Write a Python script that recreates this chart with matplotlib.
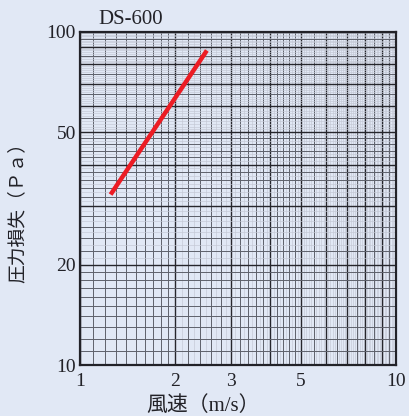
import numpy as np
import matplotlib
matplotlib.use("Agg")
import matplotlib.pyplot as plt
import matplotlib.ticker as mticker

# data
speed = [1.25, 2.52]          # m/s
pressure = [32.5, 88.0]       # Pa
x_ticks = [1, 2, 3, 5, 10]
y_ticks = [10, 20, 50, 100]
title = "DS-600"
x_label = "風速（m/s）"
y_label = "圧力損失（Ｐａ）"

BG = "#e1e8f5"
INK = "#222228"
SERIF = ["Liberation Serif", "Noto Sans CJK JP", "DejaVu Sans"]

plt.rcParams.update({
    "font.family": SERIF,
    "font.size": 14,
})

fig = plt.figure(figsize=(4.09, 4.16), dpi=100, facecolor=BG)
ax = fig.add_axes([80 / 409, 51 / 416, 316 / 409, 333 / 416], facecolor=BG)
ax.set_xscale("log")
ax.set_yscale("log")
ax.set_xlim(1, 10)
ax.set_ylim(10, 100)


def grid_values(scale):
    # log paper: fine, medium and heavy rulings for one decade
    fine = np.concatenate([np.arange(2, 5, 0.1), np.arange(5, 10, 0.1)])
    mid = np.concatenate([np.arange(1, 2, 0.1), np.arange(2, 5, 0.2), np.arange(5, 10, 0.5)])
    heavy = np.arange(1, 11, 1.0)
    return fine * scale, mid * scale, heavy * scale


fx, mx, hx = grid_values(1)
fy, my, hy = grid_values(10)

for v in fx:
    ax.axvline(v, color="#c3c8d4", lw=0.45, zorder=1)
for v in mx:
    ax.axvline(v, color="#5e616b", lw=0.7, zorder=1)
for v in hx:
    ax.axvline(v, color="#26262c", lw=1.0, zorder=1)
for v in fy:
    ax.axhline(v, color="#c3c8d4", lw=0.45, zorder=1)
for v in my:
    ax.axhline(v, color="#5e616b", lw=0.7, zorder=1)
for v in hy:
    ax.axhline(v, color="#26262c", lw=1.0, zorder=1)

ax.plot(speed, pressure, color="#ec1c24", lw=3.2, solid_capstyle="butt", zorder=3)

ax.xaxis.set_major_locator(mticker.FixedLocator(x_ticks))
ax.yaxis.set_major_locator(mticker.FixedLocator(y_ticks))
ax.xaxis.set_minor_locator(mticker.NullLocator())
ax.yaxis.set_minor_locator(mticker.NullLocator())
ax.xaxis.set_major_formatter(mticker.FixedFormatter([str(t) for t in x_ticks]))
ax.yaxis.set_major_formatter(mticker.FixedFormatter([str(t) for t in y_ticks]))
ax.tick_params(length=0, labelsize=14, colors=INK)
ax.tick_params(axis="x", pad=6)
ax.tick_params(axis="y", pad=3)

for s in ax.spines.values():
    s.set_color(INK)
    s.set_linewidth(1.6)
    s.set_zorder(4)

fig.text(98 / 409, 1 - 19 / 416, title, fontsize=15, va="center", ha="left", color=INK)
fig.text(203 / 409, 1 - 406 / 416, x_label, fontsize=15, va="center", ha="center", color=INK)
fig.text(18 / 409, 1 - 208 / 416, y_label, fontsize=13.5, va="center", ha="center",
         rotation=90, color=INK)

fig.savefig("out.png", dpi=100, facecolor=BG)
